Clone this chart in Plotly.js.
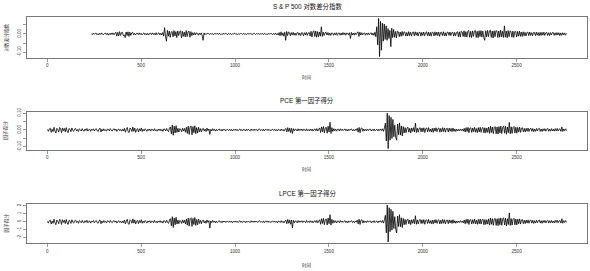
<!DOCTYPE html>
<html><head><meta charset="utf-8">
<script src="https://cdn.plot.ly/plotly-3.0.1.min.js"></script>
<style>html,body{margin:0;padding:0;background:#fff}#chart{width:590px;height:271px}</style>
</head><body><div id="chart"></div><script>
// ---- data (one value every 5 time steps) ----
const panelTitles = ["S & P 500 对数差分指数", "PCE 第一因子得分", "LPCE 第一因子得分"];
const yTitles = ["对数差分指数", "因子得分", "因子得分"];
const xTitle = "时间";
const xTickVals = [0, 500, 1000, 1500, 2000, 2500];
const xTickText = ["0", "500", "1000", "1500", "2000", "2500"];
const y1TickVals = [-0.10, -0.05, 0.00, 0.05];
const y1TickText = ["-0.10", "", "0.00", ""];
const y2TickVals = [-0.10, -0.05, 0.00, 0.05, 0.10];
const y2TickText = ["-0.10", "", "0.00", "", "0.10"];
const y3TickVals = [-2, -1, 0, 1, 2];
const y3TickText = ["-2", "-1", "0", "1", "2"];
const timeStep = 5;
const spStart = 235;
const pceStart = 1;

const spValues = [
0.002,-0.004,0.005,-0.002,0.003,0.005,-0.004,0.002,-0.005,0.004,-0.003,0.006,-0.002,-0.004,0.003,0.005,-0.003,0.004,-0.006,0.003,
-0.004,0.005,-0.003,0.006,-0.005,0.004,0.010,-0.012,0.009,-0.011,0.013,-0.008,0.007,0.010,-0.009,-0.006,-0.020,0.011,-0.009,0.012,
-0.013,0.010,-0.008,0.006,0.009,-0.005,0.004,-0.006,0.003,0.005,-0.004,0.006,-0.003,0.004,-0.005,0.002,0.006,-0.004,0.003,-0.005,
0.004,-0.006,0.003,0.005,-0.004,0.006,-0.003,0.004,-0.005,0.007,-0.004,0.003,0.006,-0.005,0.004,-0.006,0.008,-0.012,0.035,-0.015,
-0.040,0.020,-0.012,0.016,-0.018,0.010,0.014,-0.016,0.019,-0.011,0.013,-0.020,0.017,-0.009,0.012,0.018,-0.022,0.015,-0.013,0.010,
-0.016,0.019,-0.014,0.012,0.016,-0.018,0.013,-0.009,0.007,-0.006,0.008,-0.005,0.006,0.004,-0.007,0.005,-0.004,0.006,-0.008,-0.035,
0.006,-0.004,0.003,-0.002,0.004,0.002,-0.003,0.004,-0.002,0.003,-0.004,0.002,0.003,-0.002,0.004,-0.003,0.002,0.003,-0.004,0.002,
-0.003,0.004,-0.002,0.003,0.002,-0.004,0.003,-0.002,0.004,-0.003,0.002,-0.002,0.003,0.004,-0.003,0.002,-0.004,0.003,-0.002,0.003,
0.002,-0.003,0.004,-0.002,0.003,-0.004,0.002,0.003,-0.002,0.004,-0.003,0.002,-0.003,0.004,0.002,-0.003,0.003,-0.002,0.004,-0.003,
0.003,-0.002,0.004,-0.003,0.002,0.003,-0.004,0.002,-0.003,0.004,-0.002,0.003,0.002,-0.004,0.003,-0.003,0.005,-0.004,0.003,-0.006,
0.008,-0.010,0.012,-0.008,0.006,-0.012,0.010,-0.035,0.014,-0.009,0.011,0.007,-0.010,0.008,-0.006,0.009,-0.007,0.005,-0.008,0.006,
0.009,-0.007,0.005,-0.009,0.008,0.006,-0.010,0.007,-0.005,0.009,-0.008,0.006,0.008,-0.012,0.015,-0.017,0.012,0.018,-0.014,0.016,
-0.018,0.013,-0.015,0.011,-0.012,0.040,-0.014,0.010,-0.008,0.007,0.009,-0.006,0.008,-0.007,0.005,-0.008,0.006,0.004,-0.007,0.006,
-0.005,0.007,-0.008,0.004,0.006,-0.007,0.005,-0.006,0.008,-0.004,0.006,-0.007,0.005,0.004,-0.006,0.007,-0.025,0.009,-0.006,0.005,
-0.007,0.006,-0.004,0.005,0.012,-0.014,0.010,-0.006,0.007,-0.005,0.004,0.006,-0.007,0.005,-0.004,0.006,-0.005,0.003,0.007,-0.006,
0.005,-0.008,0.010,-0.015,0.040,-0.060,0.086,-0.125,0.070,-0.090,0.060,-0.040,0.055,-0.030,0.045,-0.035,0.030,-0.025,0.020,-0.070,
0.032,-0.020,0.025,-0.018,0.014,-0.022,0.016,0.012,-0.015,0.011,-0.013,0.014,-0.009,0.012,0.010,-0.012,0.008,-0.011,0.013,-0.009,
0.010,-0.012,0.008,0.011,-0.010,0.012,-0.007,0.009,-0.011,0.008,0.010,-0.012,0.009,-0.008,0.011,-0.010,0.007,0.012,-0.009,0.010,
-0.011,0.009,-0.012,0.010,0.008,-0.011,0.012,-0.008,0.010,-0.009,0.011,-0.013,0.008,0.010,-0.009,0.012,-0.010,0.007,-0.011,0.009,
0.010,-0.008,0.011,-0.009,0.007,0.010,-0.012,0.009,-0.010,0.008,0.013,-0.015,0.012,-0.017,0.016,0.011,-0.014,0.018,-0.016,0.013,
-0.017,0.015,0.019,-0.018,0.014,-0.020,0.017,-0.013,0.016,0.020,-0.019,0.015,-0.021,0.018,-0.014,0.019,-0.017,0.016,-0.020,-0.035,
0.018,-0.016,0.020,-0.015,0.017,0.021,-0.019,0.016,-0.022,0.018,-0.015,0.019,0.016,-0.020,0.017,-0.018,0.021,-0.016,0.015,-0.019,
0.045,-0.018,0.016,-0.021,0.019,-0.015,0.017,0.014,-0.018,0.016,-0.019,0.013,0.015,-0.017,0.014,-0.012,0.016,-0.013,0.011,-0.014,
0.012,-0.010,0.009,-0.011,0.008,0.010,-0.009,0.011,-0.008,0.007,-0.010,0.009,0.008,-0.009,0.010,-0.007,0.008,-0.010,0.009,-0.008,
0.009,-0.007,0.010,-0.008,0.006,0.009,-0.008,0.007,-0.009,0.008,-0.006,0.007,0.009,-0.008,0.006,-0.007,0.008,-0.006,0.007,-0.009,
0.006,-0.008,0.007,-0.005,0.006,-0.007,0.004
];

const pceValues = [
0.003,-0.008,0.006,0.011,-0.014,0.004,-0.009,0.016,-0.006,-0.018,0.010,0.002,-0.012,0.015,0.008,-0.016,0.012,-0.004,0.009,-0.011,
0.014,-0.007,-0.016,0.009,0.004,-0.010,0.012,-0.003,-0.008,0.006,0.009,-0.005,0.003,-0.009,0.007,0.002,-0.006,0.008,-0.004,-0.007,
0.006,-0.003,0.009,-0.007,0.002,0.005,-0.008,0.004,-0.002,0.007,-0.006,0.003,0.008,-0.005,-0.009,0.006,0.011,-0.012,0.004,-0.006,
0.007,-0.004,0.002,-0.007,0.006,0.003,-0.005,0.008,-0.002,-0.006,0.004,0.007,-0.003,0.005,-0.008,0.002,0.006,-0.004,0.003,-0.007,
0.005,-0.006,0.010,-0.013,0.004,0.015,-0.011,-0.016,0.012,0.006,-0.009,0.017,-0.008,0.011,-0.014,0.003,0.009,-0.012,0.007,-0.005,
0.012,-0.009,0.004,-0.006,0.007,0.002,-0.008,0.005,-0.003,0.006,-0.007,0.004,0.003,-0.006,0.008,-0.004,0.002,-0.007,0.005,-0.003,
0.006,-0.005,0.003,-0.008,0.007,0.004,-0.006,0.009,-0.004,-0.010,0.012,0.018,-0.024,0.030,-0.031,0.022,-0.018,0.026,-0.014,0.010,
-0.012,0.008,0.004,-0.010,0.011,-0.006,0.009,-0.013,0.016,-0.020,0.022,-0.026,0.018,0.024,-0.028,0.020,-0.016,0.025,-0.022,0.014,
-0.018,0.016,-0.010,0.008,-0.012,0.006,0.010,-0.007,0.005,-0.009,0.011,-0.004,0.006,-0.026,0.004,-0.006,0.008,-0.003,0.005,-0.007,
0.004,-0.005,0.002,0.006,-0.004,0.003,-0.006,0.005,-0.002,0.004,-0.005,0.003,0.002,-0.004,0.005,-0.003,0.004,-0.006,0.003,-0.002,
0.005,-0.003,0.004,-0.005,0.002,0.006,-0.004,0.003,-0.005,0.004,0.002,-0.006,0.005,-0.003,0.004,-0.002,-0.005,0.006,-0.003,0.004,
-0.004,0.005,-0.002,0.003,-0.005,0.004,0.006,-0.003,0.002,-0.004,0.005,-0.006,0.003,0.004,-0.003,0.005,-0.004,0.002,-0.005,0.003,
0.004,-0.003,0.005,-0.004,0.003,-0.006,0.004,0.002,-0.005,0.006,-0.004,0.003,-0.007,0.005,0.009,-0.012,0.014,-0.009,0.011,-0.015,
0.010,-0.021,0.008,-0.006,0.005,0.003,-0.006,0.007,-0.004,0.005,-0.003,0.006,-0.005,0.004,0.002,-0.006,0.007,-0.004,0.003,-0.005,
0.006,-0.004,0.005,-0.007,0.003,0.006,-0.005,0.008,-0.006,0.004,0.012,-0.015,0.018,-0.010,0.020,-0.017,0.013,0.016,-0.019,0.022,
-0.012,0.046,-0.020,0.014,-0.009,0.008,-0.005,0.006,-0.007,0.004,0.005,-0.006,0.007,-0.003,0.005,-0.004,0.003,0.006,-0.005,0.004,
-0.006,0.005,-0.003,0.004,0.006,-0.005,0.003,-0.006,0.004,-0.003,0.010,-0.013,0.015,-0.016,0.009,0.012,-0.008,0.006,-0.005,0.004,
-0.005,0.006,-0.003,0.004,0.005,-0.006,0.003,-0.004,0.006,-0.005,0.002,0.004,-0.006,0.005,-0.003,0.006,-0.004,0.007,-0.008,0.012,
0.040,-0.065,0.100,-0.110,0.085,-0.060,0.075,-0.050,0.062,-0.040,0.030,-0.045,-0.060,0.035,-0.028,0.042,-0.030,0.024,-0.035,0.020,
-0.018,0.014,-0.016,0.011,0.016,-0.013,0.010,-0.017,0.012,-0.009,0.014,-0.012,0.040,-0.015,0.011,-0.013,0.009,0.014,-0.011,0.012,
-0.010,0.013,-0.015,0.008,0.012,-0.011,0.014,-0.009,0.006,-0.012,0.010,-0.014,0.011,-0.007,0.013,-0.010,0.008,0.012,-0.013,0.009,
-0.011,0.014,-0.009,0.012,-0.013,0.008,0.010,-0.012,0.011,-0.007,0.009,-0.010,0.012,-0.008,0.006,-0.009,0.005,-0.006,0.004,-0.005,
0.006,-0.004,0.005,-0.007,0.010,-0.012,0.014,-0.009,0.015,-0.016,0.011,0.013,-0.014,0.012,-0.010,0.016,-0.013,0.009,-0.015,0.014,
-0.012,0.016,-0.014,0.010,0.015,-0.018,0.013,-0.016,0.012,-0.014,0.017,-0.020,0.022,-0.015,0.018,-0.021,0.016,0.020,-0.022,0.018,
-0.024,0.020,-0.018,0.023,-0.021,0.016,0.024,-0.019,0.022,-0.025,0.018,-0.016,0.045,-0.022,0.019,-0.020,0.015,0.021,-0.018,0.016,
-0.019,0.015,-0.012,0.017,-0.014,0.011,0.013,-0.012,0.009,-0.011,0.010,-0.008,0.011,-0.009,0.007,0.010,-0.008,0.009,-0.010,0.006,
-0.008,0.009,-0.006,0.007,0.010,-0.008,0.006,-0.009,0.007,-0.005,0.008,-0.007,0.005,0.009,-0.008,0.006,-0.007,0.008,-0.006,0.005,
-0.007,0.008,-0.005,0.009,-0.006,0.004,0.007,-0.008,0.018,-0.009,0.006,-0.005,0.007,-0.004
];

const lpceValues = [
0.06,-0.17,0.13,0.23,-0.29,0.08,-0.19,0.33,-0.12,-0.38,0.21,0.04,-0.25,0.31,0.17,-0.34,0.25,-0.08,0.19,-0.23,
0.29,-0.15,-0.34,0.19,0.08,-0.21,0.25,-0.06,-0.17,0.13,0.19,-0.10,0.06,-0.19,0.15,0.04,-0.13,0.17,-0.08,-0.15,
0.13,-0.06,0.19,-0.15,0.04,0.10,-0.17,0.08,-0.04,0.15,-0.13,0.06,0.17,-0.10,-0.19,0.13,0.23,-0.25,0.08,-0.13,
0.15,-0.08,0.04,-0.15,0.13,0.06,-0.10,0.17,-0.04,-0.13,0.08,0.15,-0.06,0.10,-0.17,0.04,0.13,-0.08,0.06,-0.15,
0.10,-0.13,0.21,-0.27,0.08,0.31,-0.23,-0.34,0.25,0.13,-0.19,0.36,-0.17,0.23,-0.29,0.06,0.19,-0.25,0.15,-0.10,
0.25,-0.19,0.08,-0.13,0.15,0.04,-0.17,0.10,-0.06,0.13,-0.15,0.08,0.06,-0.13,0.17,-0.08,0.04,-0.15,0.10,-0.06,
0.13,-0.10,0.06,-0.17,0.15,0.08,-0.13,0.19,-0.08,-0.21,0.25,0.38,-0.50,0.63,-0.72,0.46,-0.38,0.55,-0.29,0.21,
-0.25,0.17,0.08,-0.21,0.23,-0.13,0.19,-0.27,0.34,-0.42,0.46,-0.55,0.38,0.50,-0.59,0.42,-0.34,0.53,-0.46,0.29,
-0.38,0.34,-0.21,0.17,-0.25,0.13,0.21,-0.15,0.10,-0.19,0.23,-0.08,0.13,-0.80,0.08,-0.13,0.17,-0.06,0.10,-0.15,
0.08,-0.10,0.04,0.13,-0.08,0.06,-0.13,0.10,-0.04,0.08,-0.10,0.06,0.04,-0.08,0.10,-0.06,0.08,-0.13,0.06,-0.04,
0.10,-0.06,0.08,-0.10,0.04,0.13,-0.08,0.06,-0.10,0.08,0.04,-0.13,0.10,-0.06,0.08,-0.04,-0.10,0.13,-0.06,0.08,
-0.08,0.10,-0.04,0.06,-0.10,0.08,0.13,-0.06,0.04,-0.08,0.10,-0.13,0.06,0.08,-0.06,0.10,-0.08,0.04,-0.10,0.06,
0.08,-0.06,0.10,-0.08,0.06,-0.13,0.08,0.04,-0.10,0.13,-0.08,0.06,-0.15,0.10,0.19,-0.25,0.29,-0.19,0.23,-0.32,
0.21,-0.78,0.17,-0.13,0.10,0.06,-0.13,0.15,-0.08,0.10,-0.06,0.13,-0.10,0.08,0.04,-0.13,0.15,-0.08,0.06,-0.10,
0.13,-0.08,0.10,-0.15,0.06,0.13,-0.10,0.17,-0.13,0.08,0.25,-0.32,0.38,-0.21,0.42,-0.36,0.27,0.34,-0.40,0.46,
-0.25,0.88,-0.42,0.29,-0.19,0.17,-0.10,0.13,-0.15,0.08,0.10,-0.13,0.15,-0.06,0.10,-0.08,0.06,0.13,-0.10,0.08,
-0.13,0.10,-0.06,0.08,0.13,-0.10,0.06,-0.13,0.08,-0.06,0.21,-0.27,0.32,-0.34,0.19,0.25,-0.17,0.13,-0.10,0.08,
-0.10,0.13,-0.06,0.08,0.10,-0.13,0.06,-0.08,0.13,-0.10,0.04,0.08,-0.13,0.10,-0.06,0.13,-0.08,0.15,-0.17,0.25,
0.80,-1.40,2.09,-2.53,1.75,-1.25,1.55,-1.05,1.30,-0.85,0.63,-0.95,-1.40,0.72,-0.59,0.88,-0.63,0.50,-0.72,0.42,
-0.38,0.29,-0.34,0.23,0.34,-0.27,0.21,-0.36,0.25,-0.19,0.29,-0.25,0.75,-0.32,0.23,-0.27,0.19,0.29,-0.23,0.25,
-0.21,0.27,-0.32,0.17,0.25,-0.23,0.29,-0.19,0.13,-0.25,0.21,-0.29,0.23,-0.15,0.27,-0.21,0.17,0.25,-0.27,0.19,
-0.23,0.29,-0.19,0.25,-0.27,0.17,0.21,-0.25,0.23,-0.15,0.19,-0.21,0.25,-0.17,0.13,-0.19,0.10,-0.13,0.08,-0.10,
0.13,-0.08,0.10,-0.15,0.21,-0.25,0.29,-0.19,0.32,-0.34,0.23,0.27,-0.29,0.25,-0.21,0.34,-0.27,0.19,-0.32,0.29,
-0.25,0.34,-0.29,0.21,0.32,-0.38,0.27,-0.34,0.25,-0.29,0.36,-0.42,0.46,-0.32,0.38,-0.44,0.34,0.42,-0.46,0.38,
-0.50,0.42,-0.38,0.48,-0.44,0.34,0.50,-0.40,0.46,-0.53,0.38,-0.34,1.10,-0.46,0.40,-0.42,0.32,0.44,-0.38,0.34,
-0.40,0.32,-0.25,0.36,-0.29,0.23,0.27,-0.25,0.19,-0.23,0.21,-0.17,0.23,-0.19,0.15,0.21,-0.17,0.19,-0.21,0.13,
-0.17,0.19,-0.13,0.15,0.21,-0.17,0.13,-0.19,0.15,-0.10,0.17,-0.15,0.10,0.19,-0.17,0.13,-0.15,0.17,-0.13,0.10,
-0.15,0.17,-0.10,0.19,-0.13,0.08,0.15,-0.17,0.38,-0.19,0.13,-0.10,0.15,-0.08
];

// ---- drawing ----
const W = 590, H = 271;
const FONT = "Liberation Sans, Noto Sans CJK SC, sans-serif";
const timeAxis = (start, n) => Array.from({length: n}, (_, i) => start + i * timeStep);

const lineStyle = {color: "#000", width: 0.8, simplify: false};
const traces = [
  {x: timeAxis(spStart, spValues.length), y: spValues, xaxis: "x", yaxis: "y", type: "scatter", mode: "lines", line: lineStyle, hoverinfo: "skip"},
  {x: timeAxis(pceStart, pceValues.length), y: pceValues, xaxis: "x2", yaxis: "y2", type: "scatter", mode: "lines", line: lineStyle, hoverinfo: "skip"},
  {x: timeAxis(pceStart, lpceValues.length), y: lpceValues, xaxis: "x3", yaxis: "y3", type: "scatter", mode: "lines", line: lineStyle, hoverinfo: "skip"}
];

// pixel boxes [top, bottom] of each panel
const boxes = [[17, 58], [111.5, 150], [203.5, 243.5]];
const xDomain = [26.5 / W, 587.5 / W];
const xRange = [-110.6, 2877.6];
const yRanges = [[-0.133, 0.094], [-0.118, 0.109], [-2.72, 2.28]];
const yTicks = [[y1TickVals, y1TickText], [y2TickVals, y2TickText], [y3TickVals, y3TickText]];

const tickFont = {family: FONT, size: 4.6, color: "#333"};
function xAx(anchor) {
  return {domain: xDomain, range: xRange, anchor: anchor, showgrid: false, zeroline: false,
    showline: true, mirror: true, linecolor: "#555", linewidth: 0.8,
    ticks: "outside", ticklen: 3, tickwidth: 0.6, tickcolor: "#555",
    tickmode: "array", tickvals: xTickVals, ticktext: xTickText, tickfont: tickFont, fixedrange: true};
}
function yAx(i, anchor) {
  const b = boxes[i];
  return {domain: [(H - b[1]) / H, (H - b[0]) / H], range: yRanges[i], anchor: anchor,
    showgrid: false, zeroline: false, showline: true, mirror: true, linecolor: "#555", linewidth: 0.8,
    ticks: "outside", ticklen: 3, tickwidth: 0.6, tickcolor: "#555",
    tickmode: "array", tickvals: yTicks[i][0], ticktext: yTicks[i][1], tickangle: -90,
    tickfont: tickFont, fixedrange: true};
}

const titleY = [6, 100, 193];
const xLabY = [77, 170, 265];
const annotations = [];
for (let i = 0; i < 3; i++) {
  const b = boxes[i];
  annotations.push({text: panelTitles[i], xref: "paper", yref: "paper", x: 307 / W, y: (H - titleY[i]) / H,
    xanchor: "center", yanchor: "middle", showarrow: false, font: {family: FONT, size: 6.4, color: "#111"}});
  annotations.push({text: xTitle, xref: "paper", yref: "paper", x: 307 / W, y: (H - xLabY[i]) / H,
    xanchor: "center", yanchor: "middle", showarrow: false, font: {family: FONT, size: 4.6, color: "#333"}});
  annotations.push({text: yTitles[i], xref: "paper", yref: "paper", x: 6 / W, y: (H - (b[0] + b[1]) / 2) / H,
    xanchor: "center", yanchor: "middle", textangle: -90, showarrow: false, font: {family: FONT, size: 4.6, color: "#333"}});
}

const layout = {
  width: W, height: H, margin: {l: 0, r: 0, t: 0, b: 0},
  paper_bgcolor: "#fff", plot_bgcolor: "#fff", showlegend: false,
  xaxis: xAx("y"), xaxis2: xAx("y2"), xaxis3: xAx("y3"),
  yaxis: yAx(0, "x"), yaxis2: yAx(1, "x2"), yaxis3: yAx(2, "x3"),
  annotations: annotations
};
Plotly.newPlot("chart", traces, layout, {staticPlot: true, displayModeBar: false});
</script></body></html>
